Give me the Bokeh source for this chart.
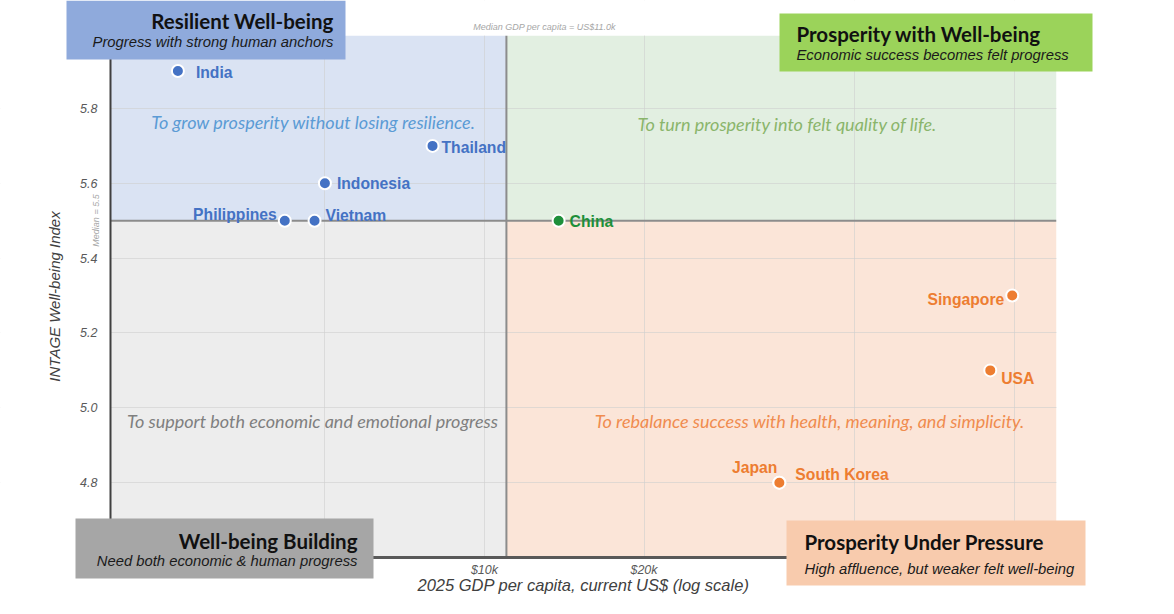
import math

from bokeh.plotting import figure
from bokeh.models import (ColumnDataSource, Range1d, FixedTicker, Label,
                          BoxAnnotation, PrintfTickFormatter)
from bokeh.embed import file_html
from bokeh.resources import INLINE

# data
countries = ["India", "Thailand", "Indonesia", "Philippines", "Vietnam", "China",
             "Singapore", "USA", "Japan", "South Korea"]
gdp_per_capita = [2640, 7980, 5000, 4200, 4780, 13800, 99000, 90000, 36000, 36000]
wellbeing_index = [5.9, 5.7, 5.6, 5.5, 5.5, 5.5, 5.3, 5.1, 4.8, 4.8]
groups = ["resilient", "resilient", "resilient", "resilient", "resilient",
          "prosperity", "pressure", "pressure", "pressure", "pressure"]

median_gdp = 11000
median_wb = 5.5

x_ticks = [5000, 10000, 20000, 50000, 100000]
x_tick_labels = ["$5k", "$10k", "$20k", "$50k", "$100k"]
y_ticks = [4.8, 5.0, 5.2, 5.4, 5.6, 5.8]

# axis limits of the plotting area
x_lo, x_hi = 1970, 120000
y_lo, y_hi = 4.6, 5.995

# styling
group_color = {"resilient": "#4472c4", "prosperity": "#1e8f3a", "pressure": "#ed7d31"}
# label placement: (x offset px, y offset px, align)
label_place = {
    "India": (18, 1, "left"), "Thailand": (9, 2, "left"), "Indonesia": (12, 0, "left"),
    "Philippines": (-8, -6, "right"), "Vietnam": (11, -5, "left"), "China": (11, 1, "left"),
    "Singapore": (-8, 4, "right"), "USA": (11, 8, "left"), "Japan": (-2, -15, "right"),
    "South Korea": (16, -8, "left"),
}

# The frame fills the whole canvas so that the corner tags can hang over the axes;
# the plotting area sits inside it at these pixel edges.
W, H = 1158, 598
a_left, a_right, a_top, a_bottom = 110, 1056, 35, 557
lx = (math.log10(x_hi) - math.log10(x_lo)) / (a_right - a_left)
x_start = 10 ** (math.log10(x_lo) - a_left * lx)
x_end = 10 ** (math.log10(x_hi) + (W - a_right) * lx)
ly = (y_hi - y_lo) / (a_bottom - a_top)
y_start = y_lo - (H - a_bottom) * ly
y_end = y_hi + a_top * ly

src = ColumnDataSource(dict(
    country=countries, gdp=gdp_per_capita, wb=wellbeing_index,
    color=[group_color[g] for g in groups],
    dx=[label_place[c][0] for c in countries],
    dy=[label_place[c][1] for c in countries],
    align=[label_place[c][2] for c in countries],
))

p = figure(width=W, height=H, x_axis_type="log",
           x_range=Range1d(x_start, x_end), y_range=Range1d(y_start, y_end),
           output_backend="svg", toolbar_location=None, min_border=0)
p.outline_line_color = None

# quadrant backgrounds
for l, r, b, t, col in [(x_lo, median_gdp, median_wb, y_hi, "#dae3f3"),
                        (median_gdp, x_hi, median_wb, y_hi, "#e2efe1"),
                        (x_lo, median_gdp, y_lo, median_wb, "#ededed"),
                        (median_gdp, x_hi, y_lo, median_wb, "#fbe5d8")]:
    p.add_layout(BoxAnnotation(left=l, right=r, bottom=b, top=t, fill_color=col,
                               fill_alpha=1, line_color=None, level="image"))

p.xgrid.ticker = FixedTicker(ticks=x_ticks)
p.ygrid.ticker = FixedTicker(ticks=y_ticks)
p.grid.grid_line_color = "#cfcfcf"
p.grid.grid_line_alpha = 0.6

# white margins around the plotting area (hide grid lines there)
for kw in [dict(right=x_lo), dict(left=x_hi),
           dict(left=x_lo, right=x_hi, bottom=y_hi), dict(left=x_lo, right=x_hi, top=y_lo)]:
    p.add_layout(BoxAnnotation(fill_color="white", fill_alpha=1, line_color=None,
                               level="glyph", **kw))

# median lines
p.segment(x0=[median_gdp, x_lo], y0=[y_lo, median_wb], x1=[median_gdp, x_hi],
          y1=[y_hi, median_wb], line_color="#8c8c8c", line_width=2)

# axes, pinned to the edges of the plotting area
p.xaxis.fixed_location = y_lo
p.yaxis.fixed_location = x_lo
p.xaxis.bounds = (x_lo, x_hi)
p.yaxis.bounds = (y_lo, y_hi)
p.xaxis.ticker = FixedTicker(ticks=x_ticks)
p.xaxis.major_label_overrides = dict(zip(x_ticks, x_tick_labels))
p.yaxis.ticker = FixedTicker(ticks=y_ticks)
p.yaxis.formatter = PrintfTickFormatter(format="%.1f")
p.xaxis.axis_label = "2025 GDP per capita, current US$ (log scale)"
p.yaxis.axis_label = "INTAGE Well-being Index"
for ax in (p.xaxis, p.yaxis):
    ax.major_tick_in = 0
    ax.major_tick_out = 0
    ax.minor_tick_in = 0
    ax.minor_tick_out = 0
    ax.major_label_text_font = "Liberation Sans"
    ax.major_label_text_font_style = "italic"
    ax.major_label_text_font_size = "12.5px"
    ax.major_label_text_color = "#595959"
    ax.axis_label_text_font = "Liberation Sans"
    ax.axis_label_text_font_style = "italic"
    ax.axis_label_text_color = "#404040"
p.xaxis.axis_label_text_font_size = "16.5px"
p.yaxis.axis_label_text_font_size = "15px"
p.xaxis.axis_line_color = "#595959"
p.xaxis.axis_line_width = 3
p.yaxis.axis_line_color = "#404040"
p.yaxis.axis_line_width = 2
p.xaxis.major_label_standoff = 5
p.xaxis.axis_label_standoff = -4
p.yaxis.major_label_standoff = 13
p.yaxis.axis_label_standoff = 14

# points and labels
p.scatter("gdp", "wb", source=src, size=12, fill_color="color",
          line_color="white", line_width=2)
p.text("gdp", "wb", text="country", source=src, x_offset="dx", y_offset="dy",
       text_align="align", text_baseline="middle", text_color="color",
       text_font_size="15.7px", text_font_style="bold", text_font={"value": "Liberation Sans"})

# median notes
p.add_layout(Label(x=544, y=26, x_units="canvas", y_units="canvas",
                   text="Median GDP per capita = US$11.0k", text_align="center",
                   text_baseline="middle", text_font="Liberation Sans", text_font_style="italic",
                   text_font_size="9px", text_color="#a6a6a6"))
p.add_layout(Label(x=95, y=220, x_units="canvas", y_units="canvas", angle=math.pi / 2,
                   text="Median = 5.5", text_align="center", text_baseline="middle",
                   text_font="Liberation Sans", text_font_style="italic",
                   text_font_size="9px", text_color="#a6a6a6"))

# quadrant messages
for x, y, txt, col in [
        (313, 121, "To grow prosperity without losing resilience.", "#5b9bd5"),
        (787, 123, "To turn prosperity into felt quality of life.", "#8ab56b"),
        (312, 420, "To support both economic and emotional progress", "#7f7f7f"),
        (809, 420, "To rebalance success with health, meaning, and simplicity.", "#f08c4f")]:
    p.add_layout(Label(x=x, y=y, x_units="canvas", y_units="canvas", text=txt,
                       text_align="center", text_baseline="middle", text_font="Lato",
                       text_font_style="italic", text_font_size="18px", text_color=col))

# quadrant tags
tags = [
    (66, 345, 0, 59, "#8faadc", "Resilient Well-being", "Progress with strong human anchors", "right", 333, 20, 41),
    (779, 1092, 13, 71, "#9bd35a", "Prosperity with Well-being", "Economic success becomes felt progress", "left", 796, 33, 54),
    (75, 373, 518, 578, "#a6a6a6", "Well-being Building", "Need both economic & human progress", "right", 357, 540, 560),
    (786, 1085, 520, 585, "#f8cbad", "Prosperity Under Pressure", "High affluence, but weaker felt well-being", "left", 804, 541, 568),
]
for x0, x1, y0, y1, col, title, sub, align, tx, ty, sy in tags:
    p.add_layout(BoxAnnotation(left=x0, right=x1, top=y0, bottom=y1,
                               left_units="canvas", right_units="canvas",
                               top_units="canvas", bottom_units="canvas",
                               fill_color=col, fill_alpha=1, line_color=None, level="overlay"))
    p.add_layout(Label(x=tx, y=ty, x_units="canvas", y_units="canvas", text=title,
                       text_align=align, text_baseline="middle", text_font="Lato",
                       text_font_style="bold", text_font_size="20.5px", text_color="#111111",
                       level="overlay"))
    p.add_layout(Label(x=tx, y=sy, x_units="canvas", y_units="canvas", text=sub,
                       text_align=align, text_baseline="middle", text_font="Liberation Sans",
                       text_font_style="italic", text_font_size="14.8px", text_color="#1a1a1a",
                       level="overlay"))

open("out.html", "w").write(file_html(p, INLINE))
